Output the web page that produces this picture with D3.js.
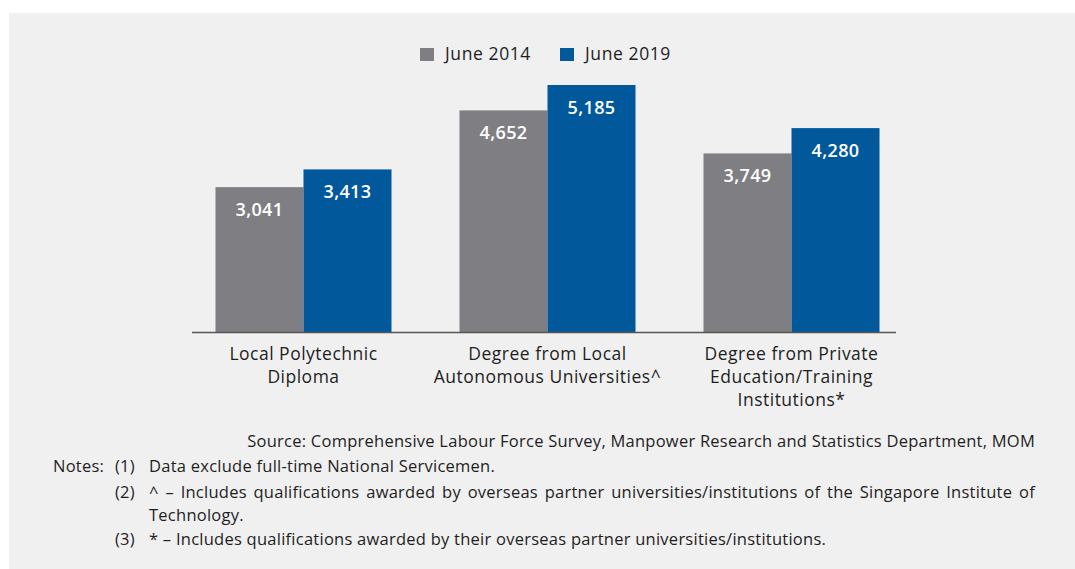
<!DOCTYPE html>
<html>
<head>
<meta charset="utf-8">
<script src="https://cdn.jsdelivr.net/npm/d3@7"></script>
<style>
  html, body { margin: 0; padding: 0; background: #ffffff; }
  svg { display: block; }
  text { font-family: "Open Sans", "Noto Sans", sans-serif; }
</style>
</head>
<body>
<svg id="chart" width="1075" height="569"></svg>
<script>
// Categories (multi-line labels) and monthly values per series
const categories = [
  ["Local Polytechnic", "Diploma"],
  ["Degree from Local", "Autonomous Universities^"],
  ["Degree from Private", "Education/Training", "Institutions*"]
];
const seriesNames = ["June 2014", "June 2019"];
const june2014 = [3041, 4652, 3749];
const june2019 = [3413, 5185, 4280];
const seriesColors = ["#7f7f83", "#01589b"];

const sourceText = "Source: Comprehensive Labour Force Survey, Manpower Research and Statistics Department, MOM";
const notes = [
  { num: "(1)", lines: ["Data exclude full-time National Servicemen."], justify: false },
  { num: "(2)", lines: ["^ \u2013 Includes qualifications awarded by overseas partner universities/institutions of the Singapore Institute of", "Technology."], justify: true },
  { num: "(3)", lines: ["* \u2013 Includes qualifications awarded by their overseas partner universities/institutions."], justify: false }
];

const svg = d3.select("#chart");
const W = 1075, H = 569;
const ink = "#1e1e1e";

// panel background
svg.append("rect").attr("x", 9).attr("y", 13).attr("width", W - 9).attr("height", H - 13).attr("fill", "#f0f0f0");

const keys = categories.map((c, i) => i);
const x = d3.scaleBand().domain(keys).range([181.5, 913.5]).paddingInner(0.2787).paddingOuter(0.1393);
const xs = d3.scaleBand().domain(seriesNames).range([0, x.bandwidth()]).padding(0);
const y = d3.scaleLinear().domain([0, 5500]).range([332, 70]);

const rows = keys.map(i => ({ i, values: [june2014[i], june2019[i]] }));

const g = svg.append("g");
const groups = g.selectAll("g.grp").data(rows).join("g")
  .attr("class", "grp")
  .attr("transform", d => `translate(${x(d.i)},0)`);

groups.selectAll("rect").data(d => d.values.map((v, k) => ({ v, k }))).join("rect")
  .attr("x", d => xs(seriesNames[d.k]))
  .attr("y", d => y(d.v))
  .attr("width", xs.bandwidth())
  .attr("height", d => y(0) - y(d.v))
  .attr("fill", d => seriesColors[d.k]);

groups.selectAll("text.val").data(d => d.values.map((v, k) => ({ v, k }))).join("text")
  .attr("class", "val")
  .attr("x", d => xs(seriesNames[d.k]) + xs.bandwidth() / 2)
  .attr("y", d => y(d.v) + 29)
  .attr("text-anchor", "middle")
  .attr("fill", "#ffffff")
  .attr("font-size", 18)
  .attr("font-weight", 600)
  .attr("letter-spacing", 0.4)
  .text(d => d3.format(",")(d.v));

// baseline
svg.append("line")
  .attr("x1", 192).attr("x2", 896)
  .attr("y1", y(0) + 0.5).attr("y2", y(0) + 0.5)
  .attr("stroke", "#555555").attr("stroke-width", 1.3);

// category labels
const catLabels = svg.append("g");
rows.forEach(d => {
  const t = catLabels.append("text")
    .attr("x", x(d.i) + x.bandwidth() / 2)
    .attr("y", 360)
    .attr("text-anchor", "middle")
    .attr("font-size", 17.5)
    .attr("letter-spacing", 0.5)
    .attr("fill", ink);
  categories[d.i].forEach((line, li) => {
    t.append("tspan").attr("x", x(d.i) + x.bandwidth() / 2).attr("dy", li === 0 ? 0 : 23).text(line);
  });
});

// legend
const legend = svg.append("g");
const legendX = [420, 560];
seriesNames.forEach((name, k) => {
  legend.append("rect").attr("x", legendX[k]).attr("y", 48).attr("width", 14).attr("height", 13).attr("fill", seriesColors[k]);
  legend.append("text").attr("x", legendX[k] + 25).attr("y", 60).attr("font-size", 17.5)
    .attr("letter-spacing", 0.6).attr("fill", ink).text(name);
});

// source and notes
const textRight = 1035;
const noteSize = 16.5, noteSpacing = 0.25;
svg.append("text").attr("x", textRight).attr("y", 447).attr("text-anchor", "end")
  .attr("font-size", noteSize).attr("letter-spacing", noteSpacing).attr("fill", ink).text(sourceText);

svg.append("text").attr("x", 53).attr("y", 472).attr("font-size", noteSize)
  .attr("letter-spacing", noteSpacing).attr("fill", ink).text("Notes:");

const noteBaselines = [[472], [498, 521], [545]];
const noteG = svg.append("g").attr("font-size", noteSize).attr("letter-spacing", noteSpacing).attr("fill", ink);
notes.forEach((n, ni) => {
  noteG.append("text").attr("x", 115).attr("y", noteBaselines[ni][0]).text(n.num);
  n.lines.forEach((line, li) => {
    const by = noteBaselines[ni][li];
    const justify = n.justify && li < n.lines.length - 1;
    if (!justify) {
      noteG.append("text").attr("x", 149).attr("y", by).text(line);
    } else {
      // justified line: spread words evenly between left and right margins
      const words = line.split(" ");
      const nodes = words.map(w => noteG.append("text").attr("y", by).text(w));
      const widths = nodes.map(s => s.node().getComputedTextLength());
      const total = d3.sum(widths);
      const gap = (textRight - 149 - total) / (words.length - 1);
      let cx = 149;
      nodes.forEach((s, k) => { s.attr("x", cx); cx += widths[k] + gap; });
    }
  });
});
</script>
</body>
</html>
